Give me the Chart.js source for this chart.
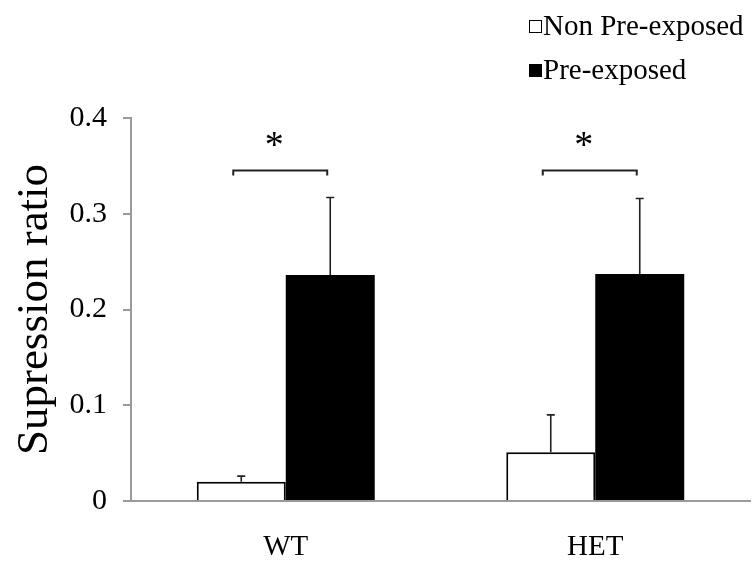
<!DOCTYPE html>
<html>
<head>
<meta charset="utf-8">
<script src="https://cdn.jsdelivr.net/npm/chart.js@4.4.1/dist/chart.umd.min.js"></script>
<style>
  html, body { margin: 0; padding: 0; background: #fff; }
  #wrap { width: 753px; height: 565px; position: relative; }
</style>
</head>
<body>
<div id="wrap"><canvas id="ratioChart"></canvas></div>
<script>
// group means and upper SEM for each condition
const groups = ['WT', 'HET'];
const nonPreMeans = [0.020, 0.051];
const nonPreErr = [0.006, 0.039];
const preMeans = [0.236, 0.237];
const preErr = [0.081, 0.079];
const seriesNames = ['Non Pre-exposed', 'Pre-exposed'];
const sigMarks = ['*', '*'];
const sigLevel = 0.346;
const yTicks = [0, 0.1, 0.2, 0.3, 0.4];

const serif = '"Liberation Serif", "Times New Roman", serif';
const axisGray = '#9a9a9a';

// upward error whiskers with a short cap
const errorBars = {
	id: 'errorBars',
	afterDatasetsDraw(chart) {
		const ctx = chart.ctx;
		const y = chart.scales.y;
		const errs = [nonPreErr, preErr];
		ctx.save();
		ctx.strokeStyle = '#222';
		ctx.lineWidth = 1.6;
		chart.data.datasets.forEach((ds, di) => {
			chart.getDatasetMeta(di).data.forEach((bar, i) => {
				const top = y.getPixelForValue(ds.data[i] + errs[di][i]);
				ctx.beginPath();
				ctx.moveTo(bar.x, bar.y);
				ctx.lineTo(bar.x, top);
				ctx.moveTo(bar.x - 4, top);
				ctx.lineTo(bar.x + 4, top);
				ctx.stroke();
			});
		});
		ctx.restore();
	}
};

// significance brackets between the two bars of a group
const sigBrackets = {
	id: 'sigBrackets',
	afterDatasetsDraw(chart) {
		const ctx = chart.ctx;
		const y = chart.scales.y;
		const a = chart.getDatasetMeta(0).data;
		const b = chart.getDatasetMeta(1).data;
		const yy = Math.round(y.getPixelForValue(sigLevel)) + 0.5;
		ctx.save();
		ctx.strokeStyle = '#222';
		ctx.lineWidth = 2;
		ctx.fillStyle = '#000';
		ctx.font = '38px ' + serif;
		ctx.textAlign = 'center';
		ctx.textBaseline = 'middle';
		sigMarks.forEach((mark, i) => {
			const x1 = a[i].x - 8;
			const x2 = b[i].x - 3;
			ctx.beginPath();
			ctx.moveTo(x1, yy + 5);
			ctx.lineTo(x1, yy);
			ctx.lineTo(x2, yy);
			ctx.lineTo(x2, yy + 5);
			ctx.stroke();
			ctx.fillText(mark, (x1 + x2) / 2 - 6, yy - 23);
		});
		ctx.restore();
	}
};

// legend stacked in the top right corner
const cornerLegend = {
	id: 'cornerLegend',
	afterDraw(chart) {
		const ctx = chart.ctx;
		ctx.save();
		ctx.font = '29px ' + serif;
		ctx.textBaseline = 'middle';
		chart.data.datasets.forEach((ds, i) => {
			const cy = 27 + i * 44;
			ctx.fillStyle = ds.backgroundColor;
			ctx.fillRect(529, cy - 7, 13, 13);
			ctx.strokeStyle = '#000';
			ctx.lineWidth = 1;
			ctx.strokeRect(529.5, cy - 6.5, 12, 12);
			ctx.fillStyle = '#000';
			ctx.fillText(ds.label, 543, cy);
		});
		ctx.restore();
	}
};

new Chart(document.getElementById('ratioChart'), {
	type: 'bar',
	data: {
		labels: groups,
		datasets: [
			{
				label: seriesNames[0],
				data: nonPreMeans,
				backgroundColor: '#ffffff',
				borderColor: '#000',
				borderWidth: 2,
			},
			{
				label: seriesNames[1],
				data: preMeans,
				backgroundColor: '#000000',
				borderColor: '#000',
				borderWidth: 0,
			},
		],
	},
	options: {
		responsive: true,
		maintainAspectRatio: false,
		animation: false,
		events: [],
		layout: {
			padding: { top: 118, right: 3, bottom: 0, left: 0 },
		},
		datasets: {
			bar: { barPercentage: 1, categoryPercentage: 0.575 },
		},
		plugins: {
			legend: { display: false },
			tooltip: { enabled: false },
		},
		scales: {
			x: {
				grid: { display: false },
				border: { display: true, color: axisGray, width: 2 },
				ticks: {
					color: '#000',
					font: { family: serif, size: 29 },
					padding: 21,
				},
				afterFit(scale) { scale.height = 64; },
			},
			y: {
				min: 0,
				max: 0.4,
				afterBuildTicks(scale) {
					scale.ticks = yTicks.map(v => ({ value: v }));
				},
				grid: {
					drawOnChartArea: false,
					drawTicks: true,
					tickLength: 8,
					color: axisGray,
					lineWidth: 2,
				},
				border: { display: true, color: axisGray, width: 2 },
				ticks: {
					color: '#000',
					font: { family: serif, size: 30 },
					padding: 16,
					callback: v => String(v),
				},
				title: {
					display: true,
					text: 'Supression ratio',
					color: '#000',
					font: { family: serif, size: 45 },
					padding: { top: 8, bottom: 0 },
				},
				afterFit(scale) { scale.width = 131; },
			},
		},
	},
	plugins: [errorBars, sigBrackets, cornerLegend],
});
</script>
</body>
</html>
